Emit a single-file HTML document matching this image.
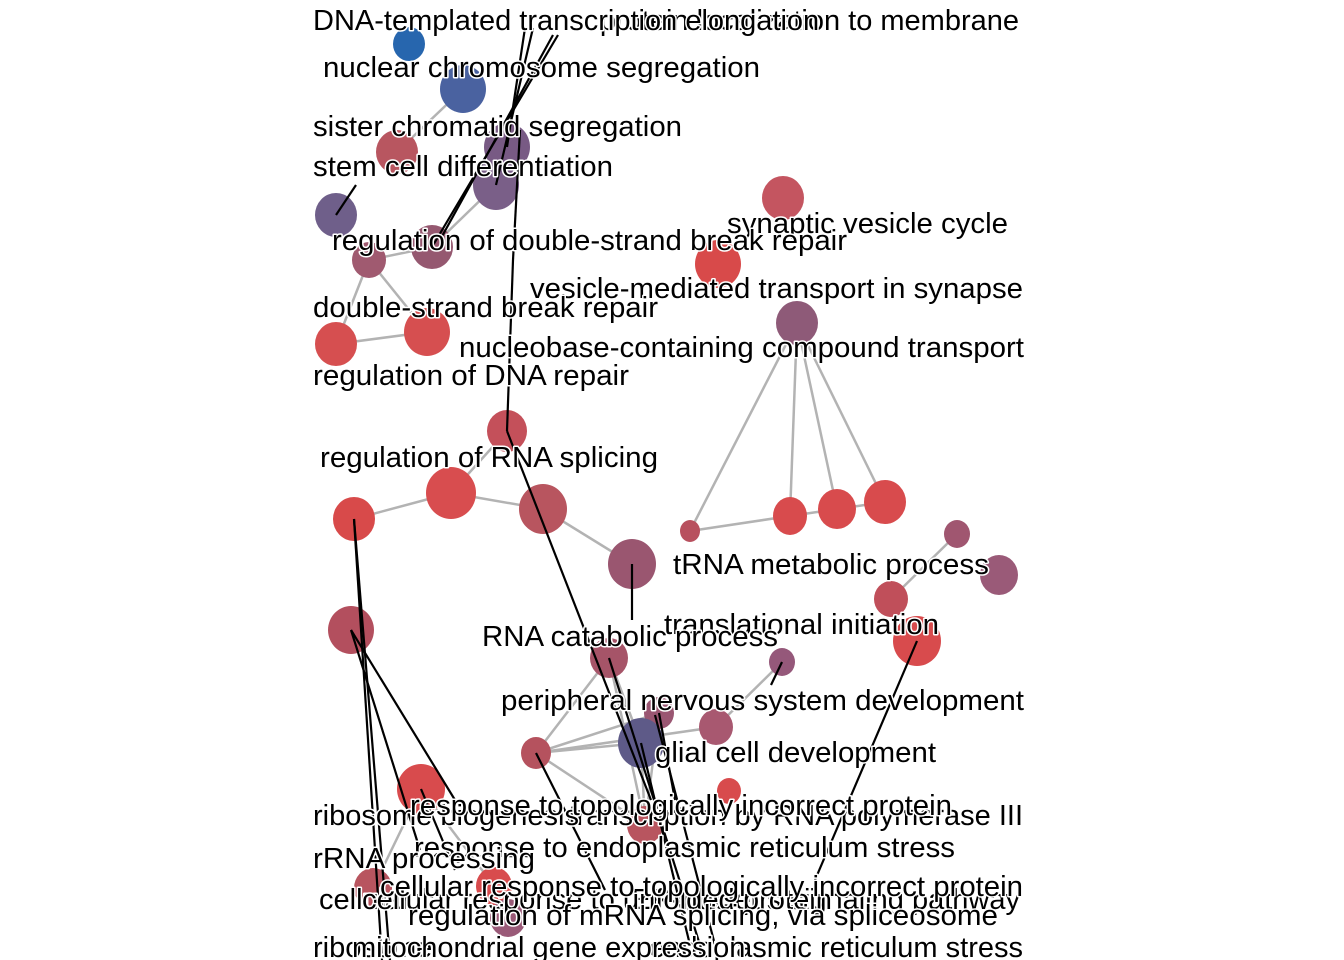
<!DOCTYPE html>
<html><head><meta charset="utf-8"><style>
html,body{margin:0;padding:0;background:#fff;}
svg{display:block}
text{font-family:"Liberation Sans",Arial,sans-serif;font-size:29px;fill:#000;stroke:#fff;stroke-width:3px;paint-order:stroke;stroke-linejoin:round}
.e{stroke:#b3b3b3;stroke-width:2.5;fill:none}
.l{stroke:#000;stroke-width:2.2;fill:none}
</style></head><body>
<svg width="1344" height="960" viewBox="0 0 1344 960" xmlns="http://www.w3.org/2000/svg">
<g class="e">
<line x1="463" y1="89" x2="397" y2="152"/>
<line x1="496" y1="185" x2="432" y2="247"/>
<line x1="336" y1="344" x2="427" y2="332"/>
<line x1="369" y1="260" x2="336" y2="344"/>
<line x1="369" y1="260" x2="427" y2="332"/>
<line x1="369" y1="260" x2="432" y2="247"/>
<line x1="354" y1="519" x2="451" y2="493"/>
<line x1="451" y1="493" x2="543" y2="509"/>
<line x1="507" y1="431" x2="451" y2="493"/>
<line x1="543" y1="509" x2="632" y2="564"/>
<line x1="797" y1="323" x2="690" y2="531"/>
<line x1="797" y1="323" x2="790" y2="516"/>
<line x1="797" y1="323" x2="837" y2="509"/>
<line x1="797" y1="323" x2="885" y2="502"/>
<line x1="690" y1="531" x2="790" y2="516"/>
<line x1="790" y1="516" x2="885" y2="502"/>
<line x1="957" y1="534" x2="891" y2="599"/>
<line x1="782" y1="662" x2="716" y2="727"/>
<line x1="536" y1="753" x2="609" y2="658"/>
<line x1="536" y1="753" x2="641" y2="743"/>
<line x1="536" y1="753" x2="659" y2="713"/>
<line x1="536" y1="753" x2="716" y2="727"/>
<line x1="536" y1="753" x2="645" y2="825"/>
<line x1="641" y1="743" x2="609" y2="658"/>
<line x1="641" y1="743" x2="645" y2="825"/>
<line x1="609" y1="658" x2="645" y2="825"/>
<line x1="659" y1="713" x2="645" y2="825"/>
<line x1="373" y1="888" x2="421" y2="789"/>
<line x1="494" y1="886" x2="421" y2="789"/>
<line x1="508" y1="918" x2="494" y2="886"/>
</g>
<g>
<ellipse cx="409" cy="44" rx="16" ry="17" fill="#2766ae"/>
<ellipse cx="463" cy="89" rx="23" ry="24" fill="#4a62a0"/>
<ellipse cx="397" cy="152" rx="21" ry="22" fill="#b85660"/>
<ellipse cx="507" cy="147" rx="23" ry="24" fill="#785a84"/>
<ellipse cx="496" cy="185" rx="23" ry="25" fill="#7a5f88"/>
<ellipse cx="336" cy="215" rx="21" ry="22" fill="#6f5f8a"/>
<ellipse cx="432" cy="247" rx="21" ry="22" fill="#955870"/>
<ellipse cx="369" cy="260" rx="17" ry="18" fill="#a05a70"/>
<ellipse cx="783" cy="198" rx="21" ry="22" fill="#c45560"/>
<ellipse cx="718" cy="264" rx="23" ry="24" fill="#d84a4a"/>
<ellipse cx="797" cy="323" rx="21" ry="22" fill="#8e5a78"/>
<ellipse cx="336" cy="344" rx="21" ry="22" fill="#d64f50"/>
<ellipse cx="427" cy="332" rx="23" ry="24" fill="#d64f50"/>
<ellipse cx="507" cy="431" rx="20" ry="21" fill="#c4505a"/>
<ellipse cx="451" cy="493" rx="25" ry="26" fill="#d84d4f"/>
<ellipse cx="354" cy="519" rx="21" ry="22" fill="#d84a4a"/>
<ellipse cx="543" cy="509" rx="24" ry="25" fill="#b8555f"/>
<ellipse cx="632" cy="564" rx="24" ry="25" fill="#9a5670"/>
<ellipse cx="690" cy="531" rx="10" ry="11" fill="#b8505e"/>
<ellipse cx="790" cy="516" rx="17" ry="19" fill="#d84b4d"/>
<ellipse cx="837" cy="509" rx="19" ry="20" fill="#d84b4d"/>
<ellipse cx="885" cy="502" rx="21" ry="22" fill="#d84b4d"/>
<ellipse cx="957" cy="534" rx="13" ry="14" fill="#a05670"/>
<ellipse cx="999" cy="575" rx="19" ry="20" fill="#9a5a78"/>
<ellipse cx="891" cy="599" rx="17" ry="18" fill="#c04f5a"/>
<ellipse cx="917" cy="641" rx="24" ry="25" fill="#d84b4d"/>
<ellipse cx="351" cy="630" rx="23" ry="24" fill="#b34f5e"/>
<ellipse cx="609" cy="658" rx="19" ry="20" fill="#a65468"/>
<ellipse cx="782" cy="662" rx="13" ry="14" fill="#95587a"/>
<ellipse cx="659" cy="713" rx="15" ry="16" fill="#9a5672"/>
<ellipse cx="716" cy="727" rx="17" ry="18" fill="#a85870"/>
<ellipse cx="536" cy="753" rx="15" ry="16" fill="#b5525e"/>
<ellipse cx="641" cy="743" rx="23" ry="25" fill="#5e5a88"/>
<ellipse cx="729" cy="791" rx="12" ry="13" fill="#d84b4d"/>
<ellipse cx="421" cy="789" rx="24" ry="25" fill="#d84b4d"/>
<ellipse cx="645" cy="825" rx="18" ry="19" fill="#b8555f"/>
<ellipse cx="373" cy="888" rx="19" ry="20" fill="#b8555f"/>
<ellipse cx="494" cy="886" rx="18" ry="19" fill="#d84b4d"/>
<ellipse cx="508" cy="918" rx="18" ry="19" fill="#9a5a78"/>
</g>
<g class="l">
<line x1="525" y1="28" x2="507" y2="147"/>
<line x1="533" y1="28" x2="496" y2="185"/>
<line x1="558" y1="35" x2="432" y2="247"/>
<line x1="553" y1="35" x2="440" y2="240"/>
<line x1="520" y1="130" x2="513" y2="260"/>
<line x1="513" y1="260" x2="507" y2="431"/>
<line x1="336" y1="215" x2="356" y2="185"/>
<line x1="507" y1="431" x2="651" y2="800"/>
<line x1="632" y1="564" x2="632" y2="620"/>
<line x1="782" y1="662" x2="771" y2="685"/>
<line x1="917" y1="641" x2="815" y2="880"/>
<line x1="354" y1="519" x2="382" y2="960"/>
<line x1="354" y1="519" x2="390" y2="960"/>
<line x1="351" y1="630" x2="455" y2="800"/>
<line x1="351" y1="630" x2="420" y2="850"/>
<line x1="609" y1="658" x2="700" y2="945"/>
<line x1="536" y1="753" x2="605" y2="890"/>
<line x1="641" y1="743" x2="690" y2="945"/>
<line x1="655" y1="715" x2="715" y2="945"/>
<line x1="659" y1="713" x2="675" y2="800"/>
<line x1="421" y1="789" x2="455" y2="870"/>
</g>
<g>
<text x="1019" y="30" text-anchor="end">protein localization to membrane</text>
<text x="313" y="30">DNA-templated transcription elongation</text>
<text x="323" y="77" textLength="437" lengthAdjust="spacingAndGlyphs">nuclear chromosome segregation</text>
<text x="313" y="136" textLength="369" lengthAdjust="spacingAndGlyphs">sister chromatid segregation</text>
<text x="313" y="176" textLength="300" lengthAdjust="spacingAndGlyphs">stem cell differentiation</text>
<text x="727" y="233" textLength="281" lengthAdjust="spacingAndGlyphs">synaptic vesicle cycle</text>
<text x="332" y="250" textLength="515" lengthAdjust="spacingAndGlyphs">regulation of double-strand break repair</text>
<text x="530" y="298" textLength="493" lengthAdjust="spacingAndGlyphs">vesicle-mediated transport in synapse</text>
<text x="313" y="317" textLength="345" lengthAdjust="spacingAndGlyphs">double-strand break repair</text>
<text x="459" y="357" textLength="565" lengthAdjust="spacingAndGlyphs">nucleobase-containing compound transport</text>
<text x="313" y="385" textLength="316" lengthAdjust="spacingAndGlyphs">regulation of DNA repair</text>
<text x="320" y="467" textLength="338" lengthAdjust="spacingAndGlyphs">regulation of RNA splicing</text>
<text x="673" y="574" textLength="316" lengthAdjust="spacingAndGlyphs">tRNA metabolic process</text>
<text x="664" y="634" textLength="275" lengthAdjust="spacingAndGlyphs">translational initiation</text>
<text x="482" y="646" textLength="296" lengthAdjust="spacingAndGlyphs">RNA catabolic process</text>
<text x="501" y="710" textLength="523" lengthAdjust="spacingAndGlyphs">peripheral nervous system development</text>
<text x="655" y="762" textLength="281" lengthAdjust="spacingAndGlyphs">glial cell development</text>
<text x="1023" y="825" text-anchor="end">transcription by RNA polymerase III</text>
<text x="313" y="825">ribosome biogenesis</text>
<text x="410" y="815" textLength="542" lengthAdjust="spacingAndGlyphs">response to topologically incorrect protein</text>
<text x="414" y="857" textLength="541" lengthAdjust="spacingAndGlyphs">response to endoplasmic reticulum stress</text>
<text x="313" y="868" textLength="222" lengthAdjust="spacingAndGlyphs">rRNA processing</text>
<text x="1020" y="909" text-anchor="end">ER-nucleus signaling pathway</text>
<text x="319" y="909">cellular</text>
<text x="362" y="909" textLength="470" lengthAdjust="spacingAndGlyphs">cellular response to unfolded protein</text>
<text x="380" y="896" textLength="643" lengthAdjust="spacingAndGlyphs">cellular response to topologically incorrect protein</text>
<text x="408" y="925" textLength="590" lengthAdjust="spacingAndGlyphs">regulation of mRNA splicing, via spliceosome</text>
<text x="1023" y="957" text-anchor="end">endoplasmic reticulum stress</text>
<text x="313" y="957">ribosome</text>
<text x="352" y="957">mitochondrial gene expression</text>
</g>
</svg>
</body></html>
